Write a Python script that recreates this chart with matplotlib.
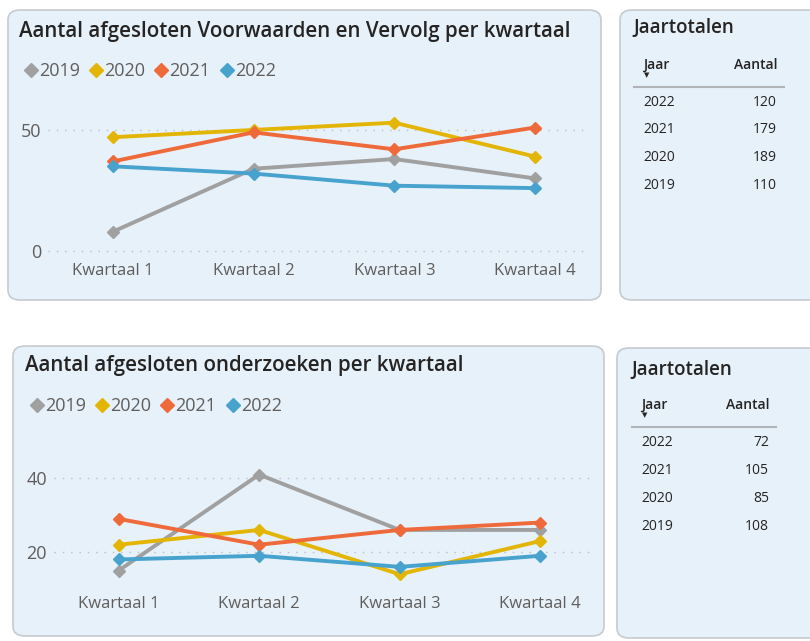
import matplotlib.pyplot as plt
from matplotlib.patches import FancyBboxPatch
from matplotlib.lines import Line2D

W, H = 810, 641

kwartalen = ["Kwartaal 1", "Kwartaal 2", "Kwartaal 3", "Kwartaal 4"]
jaren = ["2019", "2020", "2021", "2022"]
kleuren = ["#A0A0A0", "#E3B505", "#EE6A3A", "#47A3CE"]

# Voorwaarden en Vervolg per kwartaal
vv_2019 = [8, 34, 38, 30]
vv_2020 = [47, 50, 53, 39]
vv_2021 = [37, 49, 42, 51]
vv_2022 = [35, 32, 27, 26]

# onderzoeken per kwartaal
oz_2019 = [15, 41, 26, 26]
oz_2020 = [22, 26, 14, 23]
oz_2021 = [29, 22, 26, 28]
oz_2022 = [18, 19, 16, 19]

tabel_jaren = ["2022", "2021", "2020", "2019"]
vv_totalen = ["120", "179", "189", "110"]
oz_totalen = ["72", "105", "85", "108"]

plt.rcParams['font.family'] = ['Open Sans', 'DejaVu Sans']
fig = plt.figure(figsize=(W / 100, H / 100), dpi=100)

def fx(x):
    return x / W

def fy(y):
    return 1 - y / H

def paneel(x0, y0, x1, y1):
    p = FancyBboxPatch((fx(x0), fy(y1)), fx(x1 - x0), (y1 - y0) / H,
                       boxstyle="round,pad=0,rounding_size=0.015",
                       transform=fig.transFigure, facecolor="#E7F1FA",
                       edgecolor="#C6CBD0", linewidth=1.2, zorder=-5)
    fig.patches.append(p)

def lijnchart(titel, reeksen, box, ylim, ticks, ty, ly):
    x0, y0, x1, y1 = box
    ax = fig.add_axes([fx(x0), fy(y1), fx(x1 - x0), (y1 - y0) / H])
    ax.set_facecolor("none")
    for waarden, jaar, kleur in zip(reeksen, jaren, kleuren):
        ax.plot(range(len(kwartalen)), waarden, color=kleur, linewidth=2.8,
                marker="D", markersize=6.5, label=jaar, solid_capstyle="round")
    ax.set_xlim(-0.46, 3.39)
    ax.set_ylim(*ylim)
    ax.set_xticks(range(len(kwartalen)))
    ax.set_xticklabels(kwartalen)
    ax.set_yticks(ticks)
    ax.tick_params(length=0, colors="#605E5C", labelsize=12, pad=5)
    ax.tick_params(axis="y", pad=5, labelsize=13)
    ax.grid(axis="y", linestyle=(0, (1, 5)), color="#B8BEC4", linewidth=1)
    for s in ax.spines.values():
        s.set_visible(False)
    fig.text(fx(x0 - 29), fy(ty), titel, fontsize=14.8, color="#252423",
             fontweight="semibold", va="center")
    handles = [Line2D([], [], color=k, marker="D", linestyle="none", markersize=7)
               for k in kleuren]
    fig.legend(handles, jaren, loc="center left",
               bbox_to_anchor=(fx(x0 - 31), fy(ly)), ncol=4, frameon=False,
               handlelength=0.5, handletextpad=0.2, columnspacing=0.65,
               fontsize=13, labelcolor="#605E5C", borderpad=0)
    return ax

def tabel(titel, totalen, x0, ty, hy, lijn_y, ry, rechts):
    fig.text(fx(x0), fy(ty), titel, fontsize=13.5, color="#252423",
             fontweight="semibold", va="center")
    fig.text(fx(x0 + 10), fy(hy), "Jaar", fontsize=10, color="#252423",
             fontweight="semibold", va="center")
    fig.text(fx(rechts), fy(hy), "Aantal", fontsize=10, color="#252423",
             fontweight="semibold", va="center", ha="right")
    fig.text(fx(x0 + 14), fy(hy + 11), "\u25BC", fontsize=5, color="#252423",
             va="center", ha="center")
    fig.add_artist(Line2D([fx(x0 + 1), fx(rechts + 7)], [fy(lijn_y), fy(lijn_y)],
                          color="#B0B4B8", linewidth=1.5))
    for i, (j, t) in enumerate(zip(tabel_jaren, totalen)):
        y = ry + i * 27.7
        fig.text(fx(x0 + 10), fy(y), j, fontsize=10, color="#252423", va="center")
        fig.text(fx(rechts), fy(y), t, fontsize=10, color="#252423",
                 va="center", ha="right")

paneel(8, 10, 601, 300)
paneel(620, 10, 830, 300)
paneel(13, 346, 604, 636)
paneel(617, 348, 830, 638)

lijnchart("Aantal afgesloten Voorwaarden en Vervolg per kwartaal",
          [vv_2019, vv_2020, vv_2021, vv_2022],
          (48, 96, 590, 256), (-2, 64), [0, 50], 31, 71)
lijnchart("Aantal afgesloten onderzoeken per kwartaal",
          [oz_2019, oz_2020, oz_2021, oz_2022],
          (54, 434, 595, 589), (10, 52), [20, 40], 366, 406)

tabel("Jaartotalen", vv_totalen, 633, 28, 65, 87, 102, 777)
tabel("Jaartotalen", oz_totalen, 631, 370, 405, 427, 443, 769)

fig.savefig("out.png", dpi=100)
